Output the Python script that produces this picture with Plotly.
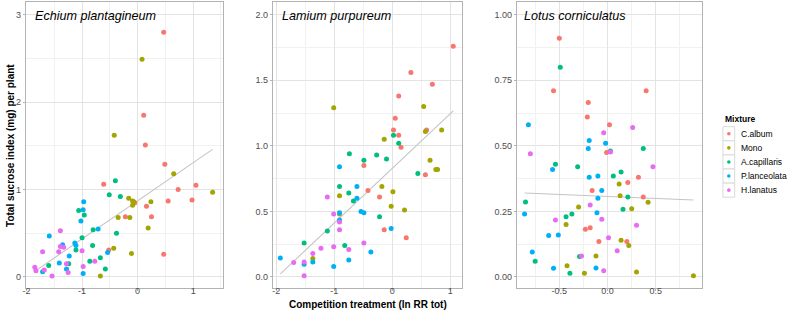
import numpy as np
import plotly.graph_objects as go

# ---------------- data ----------------
mixtures = ["C.album", "Mono", "A.capillaris", "P.lanceolata", "H.lanatus"]
mix_colors = ["#F8766D", "#A3A500", "#00BF7D", "#00B0F6", "#E76BF3"]
species = ["Echium plantagineum", "Lamium purpureum", "Lotus corniculatus"]

# Echium plantagineum
ep_calbum_x = [0.47, 0.11, 0.14, 0.49, -0.61, 0.73, 1.05, 0.55, 0.98, 0.16, -0.05, -0.22, 0.25, -0.52, 0.47]
ep_calbum_y = [2.80, 1.85, 1.51, 1.29, 1.06, 1.00, 1.05, 0.87, 0.88, 0.81, 0.85, 0.69, 0.69, 0.31, 0.26]
ep_mono_x = [0.08, -0.42, 0.65, 1.35, -0.16, -0.09, -0.07, -0.09, 0.24, -0.35, -0.14, 0.19, -0.43, -0.11, -0.67]
ep_mono_y = [2.49, 1.62, 1.18, 0.97, 0.90, 0.87, 0.86, 0.82, 0.86, 0.68, 0.68, 0.56, 0.33, 0.27, 0.01]
ep_acap_x = [-0.40, -0.51, -0.31, -1.06, -0.96, -0.80, -0.38, -1.00, -0.81, -1.11, -0.86, -0.67, -1.24, -1.60, -0.58]
ep_acap_y = [1.10, 0.94, 0.92, 0.76, 0.71, 0.54, 0.50, 0.45, 0.36, 0.31, 0.18, 0.22, 0.15, 0.13, 0.09]
ep_plan_x = [-0.97, -0.98, -1.02, -0.71, -1.59, -1.13, -1.35, -1.11, -1.23, -0.54, -1.41, -1.28, -1.71, -0.98]
ep_plan_y = [0.86, 0.77, 0.64, 0.55, 0.47, 0.39, 0.37, 0.36, 0.24, 0.28, 0.16, 0.09, 0.06, 0.04]
ep_hlan_x = [-1.39, -1.71, -1.42, -1.39, -1.33, -1.00, -0.77, -1.28, -0.98, -1.85, -1.83, -1.68, -1.25, -1.54]
ep_hlan_y = [0.53, 0.29, 0.29, 0.35, 0.34, 0.30, 0.18, 0.15, 0.12, 0.11, 0.07, 0.08, 0.05, 0.01]

# Lamium purpureum
lp_calbum_x = [1.05, 0.32, 0.69, 0.11, 0.05, 0.02, 0.59, 0.11, 0.15, -0.49, 0.57, -0.42, -0.22, -0.14, 0.24]
lp_calbum_y = [1.76, 1.56, 1.47, 1.38, 1.21, 1.12, 1.12, 1.08, 0.99, 0.85, 0.78, 0.66, 0.61, 0.36, 0.30]
lp_mono_x = [-1.01, 0.54, 0.57, 0.85, -0.14, 0.65, 0.75, 0.78, -0.18, -0.91, 0.01, -0.02, 0.21, -0.91, -1.37]
lp_mono_y = [1.29, 1.30, 1.11, 1.12, 1.05, 0.89, 0.82, 0.82, 0.69, 0.62, 0.65, 0.54, 0.51, 0.48, 0.14]
lp_acap_x = [0.02, 0.11, -0.74, -0.27, -0.49, -0.10, 0.44, -0.91, -0.75, -0.67, -0.22, -1.12, -1.52, -0.82]
lp_acap_y = [1.08, 1.02, 0.94, 0.93, 0.89, 0.90, 0.79, 0.69, 0.64, 0.58, 0.46, 0.35, 0.26, 0.24]
lp_plan_x = [-0.91, -0.61, -0.61, -0.91, -0.54, -0.49, -0.91, -0.02, -0.37, -1.93, -0.75, -1.37, -1.52, -1.01]
lp_plan_y = [0.84, 0.69, 0.60, 0.49, 0.50, 0.49, 0.435, 0.37, 0.19, 0.145, 0.13, 0.115, 0.097, 0.08]
lp_hlan_x = [-1.12, -1.01, -0.91, -0.91, -0.49, -1.01, -1.23, -0.75, -1.37, -1.70, -1.52, -1.52]
lp_hlan_y = [0.61, 0.48, 0.42, 0.36, 0.26, 0.23, 0.22, 0.21, 0.18, 0.11, 0.115, 0.01]

# Lotus corniculatus
lc_calbum_x = [-0.50, -0.56, 0.40, -0.20, -0.21, 0.02, -0.01, 0.32, 0.21, -0.16, 0.37, -0.18, -0.23, -0.09, 0.20]
lc_calbum_y = [0.91, 0.71, 0.71, 0.665, 0.61, 0.58, 0.475, 0.38, 0.36, 0.33, 0.305, 0.188, 0.182, 0.135, 0.135]
lc_mono_x = [0.12, 0.13, 0.42, -0.30, 0.25, -0.43, 0.14, 0.22, -0.12, -0.42, -0.24, 0.30, 0.89]
lc_mono_y = [0.355, 0.31, 0.285, 0.267, 0.26, 0.20, 0.14, 0.12, 0.08, 0.043, 0.014, 0.019, 0.005]
lc_acap_x = [-0.49, 0.03, 0.37, -0.54, -0.31, 0.14, 0.06, 0.21, -0.85, 0.16, -0.37, -0.43, -0.75, -0.29, -0.39]
lc_acap_y = [0.80, 0.48, 0.49, 0.43, 0.42, 0.40, 0.385, 0.305, 0.286, 0.258, 0.24, 0.23, 0.06, 0.078, 0.014]
lc_plan_x = [-0.82, -0.19, -0.02, -0.20, -0.57, -0.10, -0.19, -0.06, -0.10, -0.11, -0.86, -0.51, -0.61, -0.78, -0.56, -0.12]
lc_plan_y = [0.58, 0.52, 0.51, 0.49, 0.41, 0.385, 0.38, 0.33, 0.30, 0.245, 0.24, 0.16, 0.158, 0.095, 0.033, 0.034]
lc_hlan_x = [0.26, -0.04, 0.03, -0.80, 0.47, -0.18, -0.06, -0.54, 0.30, 0.01, 0.10, -0.27, -0.04]
lc_hlan_y = [0.57, 0.55, 0.477, 0.47, 0.42, 0.274, 0.22, 0.217, 0.197, 0.15, 0.10, 0.08, 0.024]

# tick labels
ep_xticks = [-2, -1, 0, 1]
ep_xlabels = ["-2", "-1", "0", "1"]
ep_yticks = [0, 1, 2, 3]
ep_ylabels = ["0", "1", "2", "3"]
lp_xticks = [-2, -1, 0, 1]
lp_xlabels = ["-2", "-1", "0", "1"]
lp_yticks = [0, 0.5, 1.0, 1.5, 2.0]
lp_ylabels = ["0.0", "0.5", "1.0", "1.5", "2.0"]
lc_xticks = [-0.5, 0.0, 0.5]
lc_xlabels = ["-0.5", "0.0", "0.5"]
lc_yticks = [0, 0.25, 0.5, 0.75, 1.0]
lc_ylabels = ["0.00", "0.25", "0.50", "0.75", "1.00"]

panels = [
    dict(name=species[0],
         xs=[ep_calbum_x, ep_mono_x, ep_acap_x, ep_plan_x, ep_hlan_x],
         ys=[ep_calbum_y, ep_mono_y, ep_acap_y, ep_plan_y, ep_hlan_y],
         xt=ep_xticks, xl=ep_xlabels, yt=ep_yticks, yl=ep_ylabels,
         xr=[-2.01, 1.54], yr=[-0.126, 3.149], xminor=0.5, yminor=0.5,
         xdom=[23 / 787, 221 / 787], title_x=30),
    dict(name=species[1],
         xs=[lp_calbum_x, lp_mono_x, lp_acap_x, lp_plan_x, lp_hlan_x],
         ys=[lp_calbum_y, lp_mono_y, lp_acap_y, lp_plan_y, lp_hlan_y],
         xt=lp_xticks, xl=lp_xlabels, yt=lp_yticks, yl=lp_ylabels,
         xr=[-2.057, 1.205], yr=[-0.084, 2.099], xminor=0.5, yminor=0.25,
         xdom=[271 / 787, 461 / 787], title_x=278),
    dict(name=species[2],
         xs=[lc_calbum_x, lc_mono_x, lc_acap_x, lc_plan_x, lc_hlan_x],
         ys=[lc_calbum_y, lc_mono_y, lc_acap_y, lc_plan_y, lc_hlan_y],
         xt=lc_xticks, xl=lc_xlabels, yt=lc_yticks, yl=lc_ylabels,
         xr=[-0.938, 0.982], yr=[-0.042, 1.0496], xminor=0.25, yminor=0.125,
         xdom=[516 / 787, 702 / 787], title_x=521),
]

FONT = "Liberation Sans, Arial, sans-serif"
W, H = 787, 318
ydom = [1 - 288 / H, 1 - 1.7 / H]
border = "#B3B3B3"
grid_major = "#E3E3E3"
grid_minor = "#F1F1F1"

fig = go.Figure()
layout = dict(
    width=W, height=H, margin=dict(l=0, r=0, t=0, b=0),
    paper_bgcolor="white", plot_bgcolor="white",
    showlegend=False, font=dict(family=FONT, color="#4D4D4D"),
)
annotations = []
shapes = []

for i, p in enumerate(panels):
    sfx = "" if i == 0 else str(i + 1)
    xa, ya = "x" + sfx, "y" + sfx
    # regression line (lm on all points of the panel)
    allx = np.concatenate([np.array(v) for v in p["xs"]])
    ally = np.concatenate([np.array(v) for v in p["ys"]])
    slope, intercept = np.polyfit(allx, ally, 1)
    lx = np.array([allx.min(), allx.max()])
    fig.add_trace(go.Scatter(x=lx, y=intercept + slope * lx, mode="lines",
                             line=dict(color="#C4C4C4", width=1.1),
                             xaxis=xa, yaxis=ya, hoverinfo="skip"))
    for m, col, xv, yv in zip(mixtures, mix_colors, p["xs"], p["ys"]):
        fig.add_trace(go.Scatter(x=xv, y=yv, mode="markers", name=m,
                                 marker=dict(color=col, size=5, line=dict(width=0)),
                                 xaxis=xa, yaxis=ya))
    axis_common = dict(showline=True, mirror=True, linecolor=border, linewidth=1.3,
                       showgrid=True, gridcolor=grid_major, gridwidth=1, zeroline=False,
                       ticks="outside", ticklen=2, tickcolor=border, tickwidth=1,
                       tickfont=dict(size=9, color="#4D4D4D", family=FONT),
                       tickmode="array")
    layout["xaxis" + sfx] = dict(axis_common, domain=p["xdom"], range=p["xr"],
                                 tickvals=p["xt"], ticktext=p["xl"],
                                 anchor=ya, ticklabelstandoff=-8,
                                 minor=dict(showgrid=True, gridcolor=grid_minor,
                                            dtick=p["xminor"], tick0=0, ticks=""))
    layout["yaxis" + sfx] = dict(axis_common, domain=ydom, range=p["yr"],
                                 tickvals=p["yt"], ticktext=p["yl"],
                                 anchor=xa,
                                 minor=dict(showgrid=True, gridcolor=grid_minor,
                                            dtick=p["yminor"], tick0=0, ticks=""))
    annotations.append(dict(text="<i>" + p["name"] + "</i>", xref="paper", yref="paper",
                            x=p["title_x"] / W, y=1 - 16 / H, xanchor="left",
                            yanchor="middle", showarrow=False,
                            font=dict(size=12.6, color="black", family=FONT)))

# axis titles
annotations.append(dict(text="<b>Competition treatment (ln RR tot)</b>", xref="paper",
                        yref="paper", x=366 / W, y=1 - 304 / H, xanchor="center",
                        yanchor="middle", showarrow=False,
                        font=dict(size=10, color="black", family=FONT)))
annotations.append(dict(text="<b>Total sucrose index (mg) per plant</b>", xref="paper",
                        yref="paper", x=7 / W, y=1 - 145 / H, xanchor="center",
                        yanchor="middle", showarrow=False, textangle=-90,
                        font=dict(size=10, color="black", family=FONT)))

# manual legend (ggplot style keys)
annotations.append(dict(text="<b>Mixture</b>", xref="paper", yref="paper",
                        x=722.5 / W, y=1 - 119 / H, xanchor="left", yanchor="middle",
                        showarrow=False, font=dict(size=8.5, color="black", family=FONT)))
key_top, key_h, key_x0, key_x1 = 126.7, 14.1, 722.7, 734.5
for k, (m, col) in enumerate(zip(mixtures, mix_colors)):
    y0 = key_top + k * key_h
    y1 = y0 + key_h
    shapes.append(dict(type="rect", xref="paper", yref="paper",
                       x0=key_x0 / W, x1=key_x1 / W, y0=1 - y1 / H, y1=1 - y0 / H,
                       line=dict(color="#D9D9D9", width=1), fillcolor="white"))
    cx, cy = (key_x0 + key_x1) / 2, (y0 + y1) / 2
    r = 1.8
    shapes.append(dict(type="circle", xref="paper", yref="paper",
                       x0=(cx - r) / W, x1=(cx + r) / W, y0=1 - (cy + r) / H, y1=1 - (cy - r) / H,
                       line=dict(width=0), fillcolor=col))
    annotations.append(dict(text=m, xref="paper", yref="paper", x=738.5 / W, y=1 - cy / H,
                            xanchor="left", yanchor="middle", showarrow=False,
                            font=dict(size=8.5, color="black", family=FONT)))

layout["annotations"] = annotations
layout["shapes"] = shapes
fig.update_layout(**layout)
fig.write_html("out.html")
